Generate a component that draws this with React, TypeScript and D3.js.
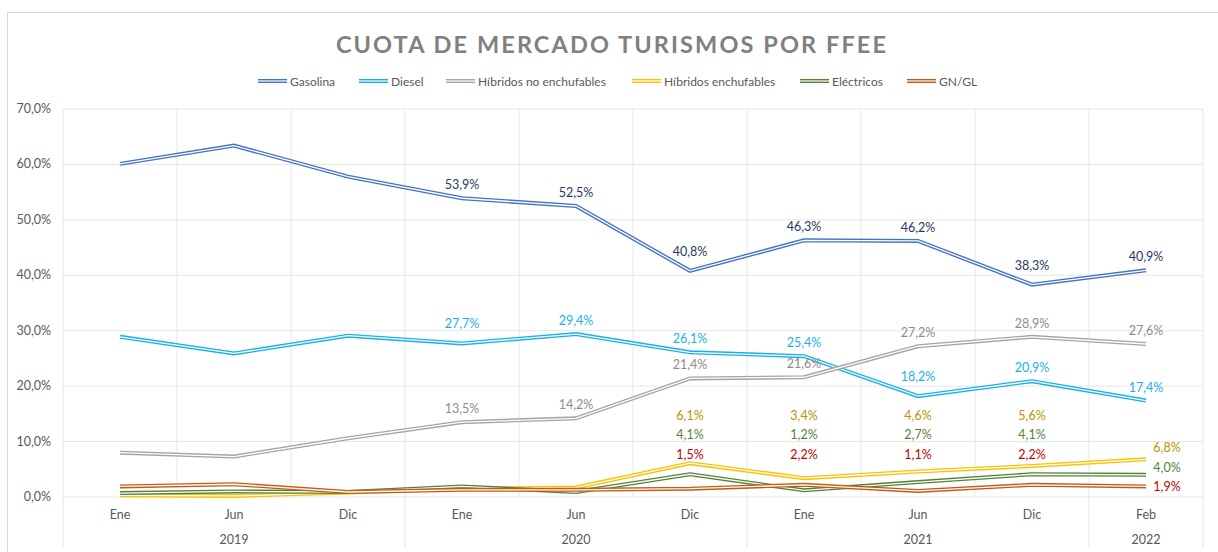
import React from "react";
import * as d3 from "d3";

const categories = ["Ene", "Jun", "Dic", "Ene", "Jun", "Dic", "Ene", "Jun", "Dic", "Feb"];
const yearLabels = ["2019", "2020", "2021", "2022"];
const yearStarts = [0, 3, 6, 9];
const yearEnds = [3, 6, 9, 10];
const yTicks = [0, 10, 20, 30, 40, 50, 60, 70];

const gasolina = [60.1, 63.4, 57.8, 53.9, 52.5, 40.8, 46.3, 46.2, 38.3, 40.9];
const diesel = [28.9, 25.9, 29.1, 27.7, 29.4, 26.1, 25.4, 18.2, 20.9, 17.4];
const hibridosNo = [8.0, 7.3, 10.6, 13.5, 14.2, 21.4, 21.6, 27.2, 28.9, 27.6];
const hibridosEnch = [0.3, 0.2, 0.8, 1.5, 1.7, 6.1, 3.4, 4.6, 5.6, 6.8];
const electricos = [0.7, 1.0, 0.9, 1.9, 0.9, 4.1, 1.2, 2.7, 4.1, 4.0];
const gnGl = [1.9, 2.3, 0.9, 1.3, 1.3, 1.5, 2.2, 1.1, 2.2, 1.9];

const seriesNames = [
  "Gasolina",
  "Diesel",
  "Híbridos no enchufables",
  "Híbridos enchufables",
  "Eléctricos",
  "GN/GL",
];
const seriesValues = [gasolina, diesel, hibridosNo, hibridosEnch, electricos, gnGl];
const lineColors = ["#4472C4", "#1AB0E8", "#A5A5A5", "#FFC000", "#548235", "#C55A11"];
const labelColors = ["#1F3864", "#1AB0E8", "#8C8C8C", "#BF9000", "#548235", "#C00000"];
const labelFrom = [3, 3, 3, 5, 5, 5];
// fixed label rows (value units) for the small series, as in the original
const labelRow = [null, null, null, 14.6, 11.1, 7.5];
const lastLabelDy = [0, 0, 0, -11, -7, 1];

const fmt = (v: number) => v.toFixed(1).replace(".", ",") + "%";

export default function App() {
  const W = 1218;
  const H = 552;
  const left = 63;
  const right = 1203;
  const top = 109;
  const bottom = 497;

  const x = d3
    .scaleBand<number>()
    .domain(categories.map((_, i) => i))
    .range([left, right]);
  const bw = x.bandwidth();
  const cx = (i: number) => (x(i) as number) + bw / 2;
  const y = d3.scaleLinear().domain([0, 70]).range([bottom, top]);

  const line = d3
    .line<number>()
    .x((_, i) => cx(i))
    .y((d) => y(d));

  const font = "Lato, 'Open Sans', sans-serif";

  const legendX = [258, 359, 446, 632, 800, 907];

  return (
    <svg
      width={W}
      height={H}
      style={{ position: "absolute", left: 0, top: 0, background: "#fff" }}
      fontFamily={font}
    >
      <rect x={7.5} y={12.5} width={W} height={H} fill="#fff" stroke="#D9D9D9" />
      <text
        x={612}
        y={53}
        textAnchor="middle"
        fontSize={23.5}
        fontWeight="bold"
        fill="#808080"
        letterSpacing={2.1}
      >
        CUOTA DE MERCADO TURISMOS POR FFEE
      </text>

      {seriesNames.map((n, i) => (
        <g key={n} transform={`translate(${legendX[i]},81)`}>
          <line x1={0} x2={29} y1={0} y2={0} stroke={lineColors[i]} strokeWidth={4} />
          <line x1={0} x2={29} y1={0} y2={0} stroke="#fff" strokeWidth={1.2} />
          <text x={32} y={4.5} fontSize={12} fill="#595959">
            {n}
          </text>
        </g>
      ))}

      {/* horizontal gridlines */}
      {yTicks.map((t) => (
        <g key={t}>
          <line x1={left} x2={right} y1={y(t)} y2={y(t)} stroke="#E6E6E6" />
          <text x={51} y={y(t) + 4} textAnchor="end" fontSize={12.5} fill="#595959">
            {fmt(t)}
          </text>
        </g>
      ))}

      {/* vertical gridlines */}
      {d3.range(categories.length + 1).map((i) => {
        const xx = i < categories.length ? (x(i) as number) : right;
        const isYear = yearStarts.includes(i) || i === categories.length;
        return (
          <line
            key={i}
            x1={xx}
            x2={xx}
            y1={top}
            y2={isYear ? 548 : bottom}
            stroke="#E6E6E6"
          />
        );
      })}

      {categories.map((c, i) => (
        <text key={i} x={cx(i)} y={519} textAnchor="middle" fontSize={12.5} fill="#595959">
          {c}
        </text>
      ))}
      {yearLabels.map((yl, k) => {
        const a = x(yearStarts[k]) as number;
        const b = yearEnds[k] < categories.length ? (x(yearEnds[k]) as number) : right;
        return (
          <text key={yl} x={(a + b) / 2} y={544} textAnchor="middle" fontSize={12.5} fill="#595959">
            {yl}
          </text>
        );
      })}

      {seriesValues.map((vals, s) => (
        <g key={s}>
          <path d={line(vals) || ""} fill="none" stroke={lineColors[s]} strokeWidth={4} strokeLinejoin="miter" />
          <path d={line(vals) || ""} fill="none" stroke="#fff" strokeWidth={1.3} />
        </g>
      ))}

      {seriesValues.map((vals, s) =>
        vals.map((v, i) => {
          if (i < labelFrom[s]) return null;
          let lx = cx(i);
          const isMin =
            i > 0 && i < vals.length - 1 && v < vals[i - 1] && v < vals[i + 1];
          let ly = y(v) - 9 - (isMin ? 6 : 0);
          const row = labelRow[s];
          if (row !== null) {
            if (i === vals.length - 1) {
              lx = cx(i) + 21;
              ly = y(v) + lastLabelDy[s] + 4;
            } else {
              ly = y(row) + 4;
            }
          }
          return (
            <text
              key={`${s}-${i}`}
              x={lx}
              y={ly}
              textAnchor="middle"
              fontSize={12.5}
              fill={labelColors[s]}
            >
              {fmt(v)}
            </text>
          );
        })
      )}
    </svg>
  );
}
